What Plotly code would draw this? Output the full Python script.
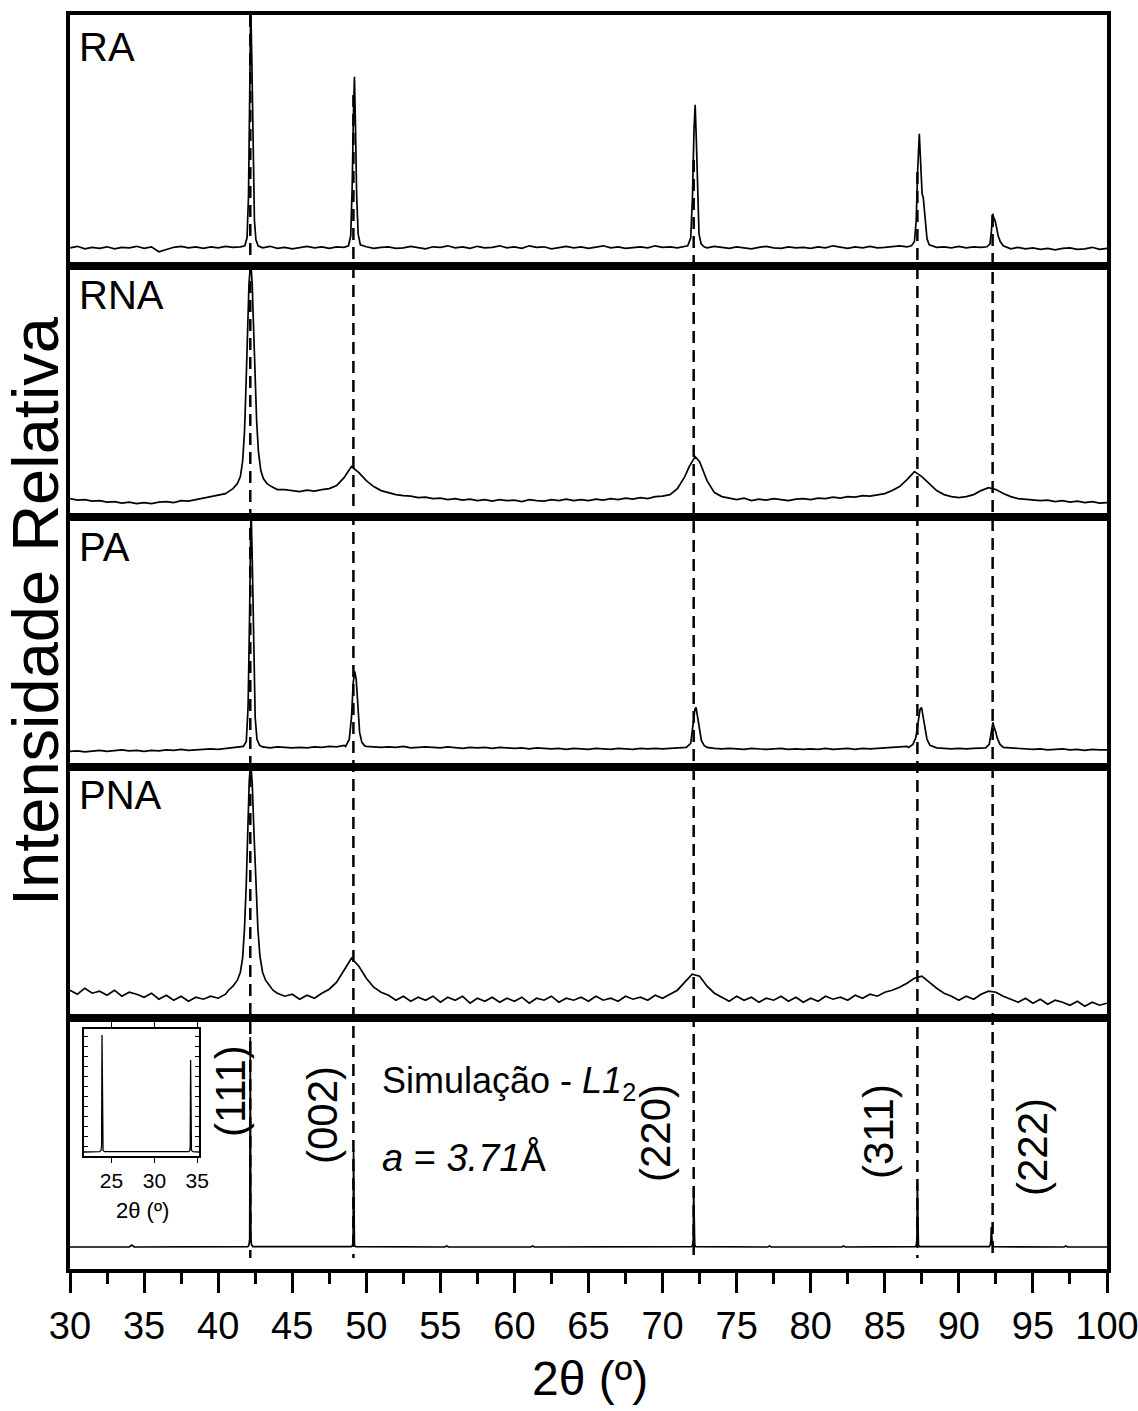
import plotly.graph_objects as go

# ---------------- data (heights, arbitrary units) ----------------
tick_vals = [30, 35, 40, 45, 50, 55, 60, 65, 70, 75, 80, 85, 90, 95, 100]
tick_text = [str(v) for v in tick_vals]
panel_names = ["RA", "RNA", "PA", "PNA"]
miller = ["(111)", "(002)", "(220)", "(311)", "(222)"]
peak_pos = [42.17, 49.13, 72.1, 87.2, 92.28]

BASE_START, BASE_STEP = 30.0, 0.5

RA_base = [18, 19.5, 17, 18.5, 17.5, 19, 17, 18.5, 18, 19.5,
           17.5, 19, 14, 16.5, 18.5, 19.5, 18, 19, 17.5, 19,
           18, 19.5, 18.5, 19, 20, 19, 18, 19.5, 17.5, 18.5,
           17, 18.5, 19.5, 18, 19, 17.5, 19, 18.5, 19.5, 18,
           19, 17.5, 18.5, 19, 17.5, 18, 19.5, 18, 17, 19,
           18.5, 20, 18, 19, 17.5, 19.5, 18, 18.5, 20, 18,
           19, 17.5, 20, 18.5, 19, 17, 18.5, 19.5, 18, 19,
           17.5, 18.5, 20, 18, 19, 17.5, 18.5, 19, 18, 20,
           18.5, 19, 18, 19.5, 20, 19, 18, 19.5, 18.5, 17.5,
           19, 18, 17, 18.5, 19.5, 18, 17.5, 19, 18, 18.5,
           17.5, 19, 18, 20, 18.5, 17.5, 19, 18, 19.5, 18,
           18.5, 19.5, 20, 19, 21, 20, 19, 18.5, 19, 18,
           19.5, 18, 19, 18.5, 19, 20, 18, 17, 18.5, 17,
           18, 16.5, 17.5, 16, 17.5, 18, 16.5, 17, 18.5, 16.5,
           17.5]
RA_111 = [(41.8, 20), (41.95, 28), (42.05, 70), (42.13, 170), (42.2, 262), (42.28, 200),
          (42.36, 110), (42.45, 45), (42.55, 26), (42.7, 20)]
RA_002 = [(48.8, 20), (48.95, 30), (49.05, 80), (49.13, 150), (49.2, 189), (49.27, 140),
          (49.35, 70), (49.45, 32), (49.6, 21)]
RA_220 = [(71.7, 20), (71.9, 28), (72.02, 70), (72.12, 135), (72.2, 161), (72.28, 125),
          (72.36, 70), (72.46, 32), (72.6, 22), (72.8, 19)]
RA_311 = [(86.8, 20), (87.0, 24), (87.12, 45), (87.22, 95), (87.33, 132), (87.43, 100),
          (87.52, 72), (87.6, 68), (87.7, 48), (87.85, 27), (88.0, 21)]
RA_222 = [(91.9, 19), (92.1, 22), (92.2, 35), (92.28, 52), (92.36, 48), (92.45, 45),
          (92.55, 38), (92.65, 30), (92.8, 24), (93.0, 20)]

RNA_base = [18, 16.5, 17, 15.5, 16, 14.5, 15, 13.5, 14.5, 13,
            14, 13, 14.5, 15, 14, 16, 15.5, 17, 18, 19.5,
            21, 23, 28, 40, 200, 135, 38, 31, 28, 27,
            26, 25, 26.5, 25.5, 27, 28, 31, 39, 50, 44,
            36, 30, 26, 24, 22, 21, 20.5, 19, 19.5, 18,
            18.5, 17, 18, 16.5, 17.5, 16, 17, 15.5, 17, 16,
            16.5, 15, 17, 16, 15.5, 17, 16, 17.5, 16, 17,
            16, 17.5, 16.5, 18, 17, 18.5, 17.5, 19, 18, 20,
            20.5, 22, 28, 40, 56, 55, 36, 24, 20, 18.5,
            17, 18.5, 16, 17.5, 16.5, 18, 17, 16, 17.5, 18,
            17, 18.5, 18, 19.5, 18.5, 20, 19.5, 21, 20.5, 22,
            23, 26, 30, 37, 45, 40, 33, 26, 22, 20,
            19, 20, 22, 26, 29, 27, 23, 20, 18, 17.5,
            17, 16, 16.5, 15, 16, 14.5, 15.5, 14, 15, 13.5,
            14]
RNA_111 = [(40.6, 24), (41.0, 28), (41.3, 33), (41.5, 40), (41.65, 55), (41.78, 85),
           (41.88, 130), (41.98, 185), (42.08, 232), (42.2, 256), (42.3, 232), (42.4, 185),
           (42.5, 135), (42.6, 95), (42.72, 65), (42.88, 46), (43.05, 38), (43.3, 33),
           (43.6, 30), (44.0, 27)]
RNA_220 = [(71.8, 50), (72.2, 60), (72.35, 58)]

PA_base = [16, 16.5, 15.5, 16.5, 17, 16, 16.5, 17.5, 16.5, 17,
           16, 17, 16.5, 17.5, 17, 18, 17, 17.5, 18, 18.5,
           18, 19, 20, 21, 200, 40, 20, 19.5, 20.5, 20,
           19.5, 20, 19.5, 20.5, 20, 21, 20.5, 22, 30, 60,
           21, 20.5, 20, 20.5, 20, 21, 19.5, 20, 20.5, 20,
           19.5, 20.5, 20, 19, 20, 19.5, 20, 19, 20, 19.5,
           19, 19.5, 18.5, 19.5, 19, 18.5, 19, 18, 19, 18.5,
           18, 19, 18.5, 18, 19, 18.5, 18, 19, 18.5, 19,
           18.5, 19, 19.5, 20, 40, 30, 20, 19, 18.5, 19,
           18.5, 18, 19, 18.5, 18, 18.5, 19, 18, 18.5, 18,
           18.5, 18, 19, 18, 18.5, 19, 18, 19, 18.5, 19,
           19, 19.5, 20, 21, 30, 50, 21, 19.5, 19, 18.5,
           19, 18.5, 19, 19.5, 20, 30, 22, 19.5, 19, 18.5,
           18, 18.5, 17.5, 18, 18.5, 17.5, 18, 17, 18, 17.5,
           17.5]
PA_111 = [(41.7, 21), (41.9, 26), (42.02, 60), (42.12, 150), (42.22, 262), (42.3, 210),
          (42.4, 110), (42.5, 50), (42.62, 28), (42.8, 22), (43.0, 20.5)]
PA_002 = [(48.6, 21), (48.85, 28), (49.0, 50), (49.12, 85), (49.22, 96), (49.32, 88),
          (49.42, 60), (49.55, 35), (49.7, 25), (49.9, 21.5)]
PA_220 = [(71.6, 20), (71.9, 24), (72.05, 40), (72.18, 58), (72.26, 60), (72.36, 50),
          (72.48, 36), (72.62, 27), (72.8, 22), (73.0, 20)]
PA_311 = [(86.6, 20), (86.9, 23), (87.1, 30), (87.25, 45), (87.38, 58), (87.48, 60),
          (87.58, 52), (87.7, 40), (87.85, 28), (88.05, 22), (88.3, 20.5)]
PA_222 = [(91.8, 19.5), (92.05, 23), (92.2, 35), (92.3, 45), (92.38, 40), (92.48, 36),
          (92.6, 29), (92.78, 23), (93.0, 20)]

PNA_base = [28, 24, 30, 25, 27, 23, 28, 22, 26, 24,
            21, 25, 19, 23, 18, 22, 17, 21, 19, 22,
            20, 24, 30, 40, 200, 150, 60, 36, 27, 22,
            24, 19, 23, 20, 25, 29, 36, 48, 60, 52,
            40, 31, 26, 23, 18, 22, 17, 21, 18, 22,
            16, 21, 18, 22, 15, 20, 17, 21, 16, 20,
            17, 21, 15, 20, 18, 22, 16, 20, 18, 21,
            17, 22, 18, 20, 17, 22, 19, 21, 18, 23,
            20, 24, 28, 36, 44, 42, 32, 25, 21, 17,
            22, 18, 21, 16, 20, 18, 22, 17, 21, 16,
            20, 17, 22, 19, 21, 18, 23, 20, 24, 22,
            26, 28, 31, 35, 40, 42, 36, 30, 25, 22,
            18, 22, 19, 24, 27, 26, 22, 19, 16, 20,
            15, 19, 14, 18, 16, 13, 17, 12, 16, 13,
            15]
PNA_111 = [(40.7, 28), (41.0, 32), (41.3, 38), (41.5, 46), (41.65, 60), (41.78, 90),
           (41.9, 135), (42.0, 190), (42.1, 238), (42.2, 256), (42.3, 235), (42.42, 185),
           (42.55, 130), (42.68, 90), (42.82, 62), (43.0, 46), (43.2, 38), (43.45, 33),
           (43.7, 28), (44.0, 25)]

SIM = [(30, 22), (34.0, 22), (34.17, 24), (34.34, 22),
       (42.0, 22.3), (42.08, 24), (42.13, 30), (42.17, 232), (42.21, 30), (42.26, 24), (42.34, 22.3),
       (49.0, 22.3), (49.08, 24), (49.11, 30), (49.14, 119), (49.17, 30), (49.2, 24), (49.28, 22.3),
       (55.3, 22), (55.43, 23), (55.56, 22), (61.1, 22), (61.23, 23), (61.36, 22),
       (71.95, 22.3), (72.03, 24), (72.07, 30), (72.1, 81), (72.13, 30), (72.17, 24), (72.25, 22.3),
       (77.1, 22), (77.22, 23), (77.34, 22), (82.1, 22), (82.22, 23), (82.34, 22),
       (87.05, 22.3), (87.13, 24), (87.17, 30), (87.2, 86), (87.23, 30), (87.27, 24), (87.35, 22.3),
       (92.05, 22.3), (92.12, 24), (92.16, 28), (92.19, 42), (92.22, 28), (92.26, 24), (92.34, 22.3),
       (97.1, 22), (97.22, 23), (97.34, 22), (100, 22)]

INSET = [(21.8, 4), (23.6, 4.3), (23.78, 5.5), (23.85, 10), (23.9, 121), (23.95, 10),
         (24.02, 5.5), (24.2, 4.3), (34.0, 4.3), (34.13, 5.5), (34.18, 10), (34.22, 96),
         (34.27, 10), (34.32, 5.5), (34.5, 4.3), (35.2, 4)]
inset_ticks = [25, 30, 35]


def merge(base, *peaks):
    pts = [(BASE_START + BASE_STEP * i, v) for i, v in enumerate(base)]
    for pk in peaks:
        lo, hi = pk[0][0], pk[-1][0]
        pts = [p for p in pts if not (lo <= p[0] <= hi)]
        pts += pk
    pts.sort()
    return [p[0] for p in pts], [p[1] for p in pts]


series = [
    merge(RA_base, RA_111, RA_002, RA_220, RA_311, RA_222),
    merge(RNA_base, RNA_111, RNA_220),
    merge(PA_base, PA_111, PA_002, PA_220, PA_311, PA_222),
    merge(PNA_base, PNA_111),
    ([p[0] for p in SIM], [p[1] for p in SIM]),
]

# ---------------- figure geometry ----------------
W, H = 1138, 1411
L, R, T, B = 70, 31, 15, 142
PH = H - T - B
FONT = "Liberation Sans, Arial, sans-serif"


def py(pix):  # pixel row -> paper y
    return (H - B - pix) / PH


def px(pix):  # pixel column -> paper x
    return (pix - L) / (W - L - R)


fig = go.Figure()
n = 5
layout = {}
for i, (xs, ys) in enumerate(series):
    k = i + 1
    xa = "x" if k == 1 else f"x{k}"
    ya = "y" if k == 1 else f"y{k}"
    fig.add_trace(go.Scatter(x=xs, y=ys, mode="lines", xaxis=xa, yaxis=ya,
                             line=dict(color="black", width=1.7), showlegend=False,
                             hoverinfo="skip"))
    d0 = 1 - (i + 1) / n
    d1 = 1 - i / n
    xkey = "xaxis" if k == 1 else f"xaxis{k}"
    ykey = "yaxis" if k == 1 else f"yaxis{k}"
    xax = dict(domain=[0, 1], range=[30, 100], anchor=ya, showline=True, mirror=True,
               linecolor="black", linewidth=4, showgrid=False, zeroline=False,
               showticklabels=False, ticks="", automargin=False)
    if k < n:
        xax["matches"] = "x5"
    else:
        xax.update(ticks="outside", ticklen=20, tickwidth=2.5, tickcolor="black",
                   tickvals=tick_vals, ticktext=tick_text, showticklabels=True,
                   ticklabeloverflow="allow",
                   tickfont=dict(family=FONT, size=38, color="black"),
                   minor=dict(ticks="outside", ticklen=11, tickwidth=2.5,
                              tickcolor="black", dtick=2.5, tick0=30))
    layout[xkey] = xax
    layout[ykey] = dict(domain=[d0, d1], range=[0, PH / n], anchor=xa, showline=True,
                        mirror=True, linecolor="black", linewidth=4, showgrid=False,
                        zeroline=False, showticklabels=False, ticks="", fixedrange=True,
                        automargin=False)

# inset
fig.add_trace(go.Scatter(x=[p[0] for p in INSET], y=[p[1] for p in INSET], mode="lines",
                         xaxis="x6", yaxis="y6", line=dict(color="black", width=1.3),
                         showlegend=False, hoverinfo="skip"))
layout["xaxis6"] = dict(domain=[px(84), px(199)], range=[21.8, 35.2], anchor="y6",
                        showline=True, mirror="ticks", linecolor="black", linewidth=1.5,
                        ticks="outside", ticklen=5, tickwidth=1.2, tickcolor="black",
                        tickvals=inset_ticks, ticktext=[str(v) for v in inset_ticks],
                        tickfont=dict(family=FONT, size=21, color="black"),
                        showgrid=False, zeroline=False, automargin=False)
layout["yaxis6"] = dict(domain=[py(1156), py(1029)], range=[0, 127], anchor="x6",
                        showline=True, mirror="ticks", linecolor="black", linewidth=1.5,
                        ticks="inside", ticklen=4, tickwidth=1, tickcolor="black", dtick=10,
                        showticklabels=False, showgrid=False, zeroline=False, automargin=False)

fig.update_layout(width=W, height=H, margin=dict(l=L, r=R, t=T, b=B, autoexpand=False),
                  paper_bgcolor="white", plot_bgcolor="white",
                  font=dict(family=FONT, color="black"), **layout)

# dashed guide lines
dash_top = [15, 95, 160, 172, 215]
for xpos, top in zip(peak_pos, dash_top):
    fig.add_shape(type="line", xref="x5", yref="paper", x0=xpos, x1=xpos,
                  y0=py(top), y1=py(1258), line=dict(color="black", width=2.5, dash="12px,7px"))

# panel labels
label_y = [47, 295, 547, 795]
for name, yy in zip(panel_names, label_y):
    fig.add_annotation(text=name, xref="paper", yref="paper", x=px(77), y=py(yy),
                       xanchor="left", yanchor="middle", showarrow=False,
                       font=dict(family=FONT, size=40, color="black"))

# Miller indices
miller_xy = [(230, 1091), (322, 1115), (655, 1133), (878, 1132), (1032, 1147)]
for lab, (mx, my) in zip(miller, miller_xy):
    fig.add_annotation(text=lab, xref="paper", yref="paper", x=px(mx), y=py(my),
                       xanchor="center", yanchor="middle", textangle=-90, showarrow=False,
                       font=dict(family=FONT, size=42, color="black"))

fig.add_annotation(text="Simulação - <i>L1</i><sub>2</sub>", xref="paper", yref="paper",
                   x=px(380), y=py(1083), xanchor="left", yanchor="middle", showarrow=False,
                   font=dict(family=FONT, size=36, color="black"))
fig.add_annotation(text="<i>a</i> = <i>3.71</i>Å", xref="paper", yref="paper",
                   x=px(380), y=py(1157), xanchor="left", yanchor="middle", showarrow=False,
                   font=dict(family=FONT, size=38, color="black"))

# inset x title
fig.add_annotation(text="2θ (º)", xref="paper", yref="paper", x=px(142), y=py(1210),
                   xanchor="center", yanchor="middle", showarrow=False,
                   font=dict(family=FONT, size=22, color="black"))

# axis titles
fig.add_annotation(text="2θ (º)", xref="paper", yref="paper", x=px(590), y=py(1378),
                   xanchor="center", yanchor="middle", showarrow=False,
                   font=dict(family=FONT, size=48, color="black"))
fig.add_annotation(text="Intensidade Relativa", xref="paper", yref="paper", x=px(35), y=py(611),
                   xanchor="center", yanchor="middle", textangle=-90, showarrow=False,
                   font=dict(family=FONT, size=65, color="black"))

fig.write_html("out.html")
